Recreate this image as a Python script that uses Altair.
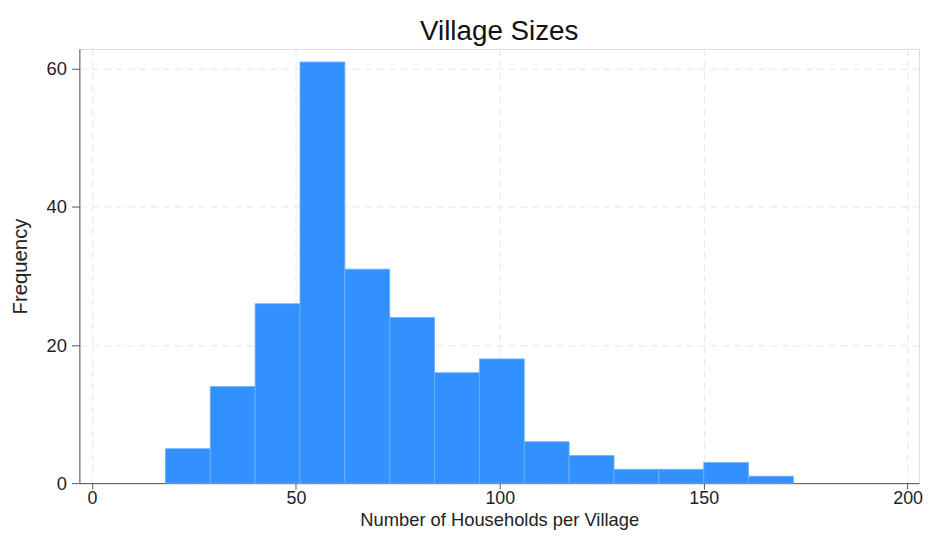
import altair as alt
import pandas as pd

bin_start = [18, 29, 40, 51, 62, 73, 84, 95, 106, 117, 128, 139, 150, 161]
bin_end = [29, 40, 51, 62, 73, 84, 95, 106, 117, 128, 139, 150, 161, 172]
counts = [5, 14, 26, 61, 31, 24, 16, 18, 6, 4, 2, 2, 3, 1]
x_ticks = [0, 50, 100, 150, 200]
y_ticks = [0, 20, 40, 60]

df = pd.DataFrame({"start": bin_start, "end": bin_end, "count": counts})

FONT = "Liberation Sans"

bars = alt.Chart(df).mark_rect(
    color="#3391ff", stroke="#6fb0ff", strokeWidth=0.8
).encode(
    x=alt.X("start:Q",
            scale=alt.Scale(domain=[-3.1, 202.8], nice=False, zero=False),
            axis=alt.Axis(values=x_ticks, title="Number of Households per Village",
                          grid=True, gridDash=[7, 5], gridColor="#e6e6e6",
                          labelFontSize=18, titleFontSize=18.5, titleFontWeight="normal",
                          labelColor="#222", titleColor="#222",
                          domainColor="#555", tickColor="#555", tickSize=6,
                          labelPadding=1, titlePadding=3, labelFont=FONT, titleFont=FONT)),
    x2="end:Q",
    y=alt.Y("count:Q",
            scale=alt.Scale(domain=[0, 62.9], nice=False),
            axis=alt.Axis(values=y_ticks, title="Frequency",
                          grid=True, gridDash=[7, 5], gridColor="#e6e6e6",
                          labelFontSize=18.5, titleFontSize=20.5, titleFontWeight="normal",
                          labelColor="#222", titleColor="#222",
                          domainColor="#555", tickColor="#555", tickSize=8,
                          labelPadding=5, titlePadding=16, labelFont=FONT, titleFont=FONT)),
    y2=alt.datum(0),
)

chart = bars.properties(
    width=847,
    height=438,
    title=alt.TitleParams("Village Sizes", fontSize=28, font=FONT, fontWeight="normal",
                          color="#111", anchor="middle", offset=3),
    autosize=alt.AutoSizeParams(type="none"),
    padding={"left": 72, "top": 39, "right": 6, "bottom": 48},
).configure_view(stroke=None).configure(background="white")

chart.save("out.html", embed_options={"renderer": "svg", "actions": False})
